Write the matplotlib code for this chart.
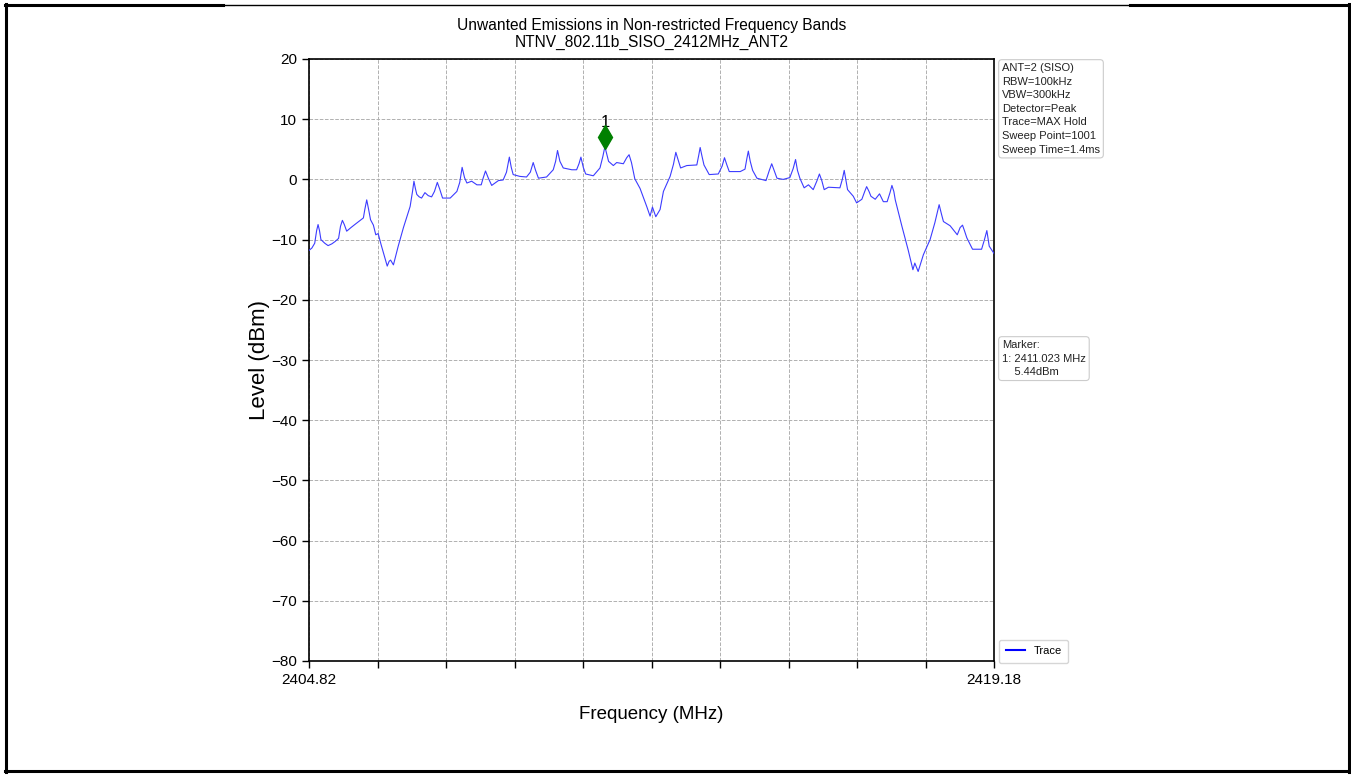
import matplotlib
matplotlib.use("Agg")
import matplotlib.pyplot as plt
from matplotlib.lines import Line2D
from matplotlib.transforms import offset_copy

plt.rcParams["font.family"] = ["Liberation Sans", "DejaVu Sans"]

# trace (MHz, dBm)
freq = [2404.82, 2404.88, 2404.94, 2404.98, 2405.01, 2405.04, 2405.07, 2405.15,
        2405.22, 2405.30, 2405.37, 2405.44, 2405.48, 2405.52, 2405.56, 2405.61,
        2405.70, 2405.78, 2405.88, 2405.96, 2405.99, 2406.03, 2406.07, 2406.11,
        2406.17, 2406.22, 2406.27, 2406.33, 2406.38, 2406.46, 2406.50, 2406.53,
        2406.56, 2406.59, 2406.69, 2406.80, 2406.94, 2406.99, 2407.02, 2407.05,
        2407.08, 2407.13, 2407.18, 2407.25, 2407.32, 2407.39, 2407.45, 2407.51,
        2407.56, 2407.62, 2407.78, 2407.92, 2407.98, 2408.03, 2408.08, 2408.13,
        2408.23, 2408.34, 2408.43, 2408.47, 2408.52, 2408.58, 2408.65, 2408.79,
        2408.89, 2408.96, 2409.02, 2409.06, 2409.10, 2409.24, 2409.38, 2409.46,
        2409.52, 2409.57, 2409.63, 2409.80, 2409.94, 2409.99, 2410.03, 2410.08,
        2410.15, 2410.33, 2410.43, 2410.48, 2410.52, 2410.57, 2410.62, 2410.78,
        2410.92, 2410.98, 2411.023, 2411.06, 2411.10, 2411.20, 2411.27, 2411.41,
        2411.48, 2411.53, 2411.58, 2411.65, 2411.76, 2411.90, 2411.97, 2412.02,
        2412.09, 2412.18, 2412.25, 2412.39, 2412.46, 2412.51, 2412.56, 2412.61,
        2412.74, 2412.95, 2412.99, 2413.02, 2413.06, 2413.10, 2413.21, 2413.40,
        2413.48, 2413.53, 2413.58, 2413.63, 2413.86, 2413.96, 2414.00, 2414.03,
        2414.07, 2414.12, 2414.21, 2414.40, 2414.47, 2414.52, 2414.57, 2414.63,
        2414.76, 2414.90, 2414.97, 2415.02, 2415.06, 2415.11, 2415.20, 2415.29,
        2415.39, 2415.47, 2415.52, 2415.57, 2415.62, 2415.71, 2415.95, 2416.00,
        2416.04, 2416.08, 2416.11, 2416.23, 2416.30, 2416.41, 2416.47, 2416.51,
        2416.56, 2416.60, 2416.69, 2416.78, 2416.86, 2416.94, 2417.00, 2417.04,
        2417.08, 2417.11, 2417.25, 2417.38, 2417.48, 2417.52, 2417.59, 2417.70,
        2417.84, 2417.94, 2418.03, 2418.08, 2418.12, 2418.26, 2418.41, 2418.47,
        2418.52, 2418.56, 2418.61, 2418.73, 2418.92, 2418.98, 2419.03, 2419.06,
        2419.08, 2419.18]
level = [-11.8, -11.4, -10.6, -8.5, -7.5, -8.5, -10.0, -10.6,
         -11.0, -10.7, -10.3, -9.8, -7.8, -6.8, -7.5, -8.6,
         -8.0, -7.5, -6.9, -6.4, -5.0, -3.4, -5.0, -6.7,
         -7.6, -9.2, -9.0, -10.8, -12.2, -14.4, -13.6, -13.4,
         -13.8, -14.2, -11.1, -8.0, -4.5, -2.0, -0.3, -1.5,
         -2.5, -2.9, -3.1, -2.2, -2.7, -2.9, -2.0, -0.5,
         -1.6, -3.1, -3.1, -2.0, -0.5, 2.0, 0.3, -0.6,
         -0.3, -0.9, -0.9, 0.2, 1.4, 0.2, -1.0, -0.2,
         -0.1, 1.2, 3.7, 2.0, 0.8, 0.5, 0.4, 1.2,
         2.8, 1.5, 0.2, 0.4, 1.6, 3.0, 4.8, 3.0,
         1.9, 1.6, 1.6, 2.6, 3.7, 2.0, 0.9, 0.6,
         1.9, 3.8, 5.44, 4.3, 3.0, 2.3, 2.8, 2.6,
         3.6, 4.1, 2.8, 0.1, -1.5, -4.5, -6.1, -4.6,
         -6.2, -5.0, -2.0, 0.5, 2.5, 4.5, 3.2, 1.9,
         2.3, 2.4, 4.0, 5.3, 3.8, 2.4, 0.8, 0.9,
         2.2, 3.6, 2.4, 1.3, 1.3, 1.7, 3.5, 4.7,
         3.0, 1.5, 0.2, -0.2, 1.5, 2.6, 1.5, 0.2,
         0.0, 0.3, 1.8, 3.3, 1.5, 0.2, -1.4, -0.9,
         -1.7, -0.2, 0.9, -0.2, -1.7, -1.3, -1.4, 0.0,
         1.5, -0.3, -1.7, -2.8, -3.9, -3.3, -2.0, -1.2,
         -2.0, -2.8, -3.3, -2.4, -3.7, -3.7, -2.2, -1.0,
         -2.0, -3.4, -7.8, -11.7, -15.0, -13.9, -15.3, -12.5,
         -10.0, -7.2, -4.2, -5.8, -7.0, -7.7, -9.2, -8.0,
         -7.6, -8.5, -9.7, -11.6, -11.6, -10.0, -8.5, -10.0,
         -11.1, -12.3]

f_start, f_stop = 2404.82, 2419.18
y_ticks = [-80, -70, -60, -50, -40, -30, -20, -10, 0, 10, 20]
marker_freq, marker_level = 2411.023, 5.44

settings = ["ANT=2 (SISO)", "RBW=100kHz", "VBW=300kHz", "Detector=Peak",
            "Trace=MAX Hold", "Sweep Point=1001", "Sweep Time=1.4ms"]

W, H = 1351, 776
fig = plt.figure(figsize=(W / 100, H / 100), dpi=100)
fig.patch.set_facecolor("white")
ax = fig.add_axes([309 / W, 1 - 661 / H, 685 / W, 602 / H])

ax.plot(freq, level, color="#3c3cff", lw=0.8, zorder=3)

# marker diamond, drawn a bit above the peak like the analyser does
mk = offset_copy(ax.transData, fig=fig, x=0, y=7, units="points")
ax.plot([marker_freq], [marker_level], marker="d", markersize=12,
        color="green", ls="none", transform=mk, zorder=4)
ax.annotate("1", (marker_freq, marker_level), textcoords="offset points",
            xytext=(0, 14), ha="center", fontsize=12, color="black")

ticks = [f_start + i * (f_stop - f_start) / 10 for i in range(11)]
ax.set_xlim(f_start, f_stop)
ax.set_ylim(-80, 20)
ax.set_xticks(ticks)
ax.set_xticklabels([f"{f_start:.2f}"] + [""] * 9 + [f"{f_stop:.2f}"], fontsize=11)
ax.set_yticks(y_ticks)
ax.set_yticklabels([str(v).replace("-", "\u2212") for v in y_ticks], fontsize=11)
ax.grid(True, ls="--", color="#b0b0b0", lw=0.7)
ax.tick_params(direction="out", length=5, width=1, colors="black")
for sp in ax.spines.values():
    sp.set_linewidth(1.2)

ax.set_title("Unwanted Emissions in Non-restricted Frequency Bands\n"
             "NTNV_802.11b_SISO_2412MHz_ANT2", fontsize=11.2, pad=9,
             linespacing=1.15)
ax.set_xlabel("Frequency (MHz)", fontsize=13.5, labelpad=14)
ax.set_ylabel("Level (dBm)", fontsize=16, labelpad=1)

box = dict(boxstyle="round,pad=0.3", fc="white", ec="#cccccc", lw=0.8)
fig.text(1002 / W, 1 - 63 / H, "\n".join(settings), ha="left", va="top",
         fontsize=8.0, color="#222222", bbox=box, linespacing=1.45)
fig.text(1002 / W, 1 - 340 / H,
         f"Marker:\n1: {marker_freq:.3f} MHz\n    {marker_level:.2f}dBm",
         ha="left", va="top", fontsize=8.0, color="#222222", bbox=box,
         linespacing=1.45)

fig.legend([Line2D([0], [0], color="blue", lw=1.5)], ["Trace"],
           loc="lower left", bbox_to_anchor=(999 / W, 1 - 663 / H),
           borderaxespad=0, fontsize=8, frameon=True, handlelength=1.7,
           borderpad=0.6, edgecolor="#cccccc", fancybox=True)

# page frame around the figure
def hline(x0, x1, y, lw):
    fig.add_artist(Line2D([x0 / W, x1 / W], [1 - y / H, 1 - y / H],
                          color="black", lw=lw, transform=fig.transFigure))

def vline(x, y0, y1, lw):
    fig.add_artist(Line2D([x / W, x / W], [1 - y0 / H, 1 - y1 / H],
                          color="black", lw=lw, transform=fig.transFigure))

hline(5, 223, 5, 2.2)
hline(223, 1130, 4.5, 1.0)
hline(1130, 1350, 5, 2.2)
vline(6, 4, 772, 2.2)
vline(1348.5, 4, 772, 2.2)
hline(5, 1350, 771, 2.2)

fig.savefig("out.png", dpi=100, facecolor="white")
